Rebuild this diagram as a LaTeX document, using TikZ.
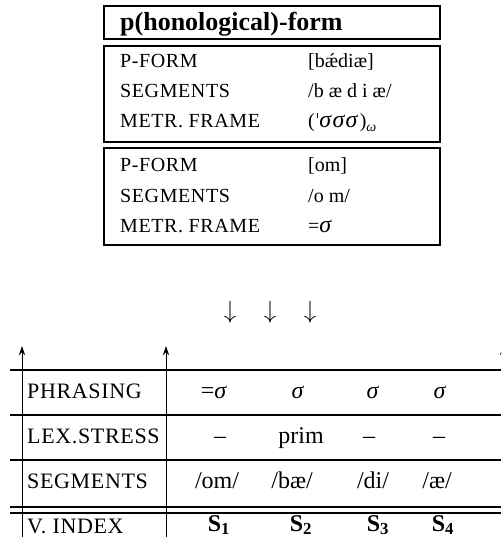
\documentclass[tikz,border=0pt]{standalone}
\usepackage{fontspec}
\setmainfont{Liberation Serif}
\usetikzlibrary{arrows.meta}
\newcommand{\sig}{\textit{σ}}
\newcommand{\bigsig}{{\fontsize{24}{26}\selectfont\textit{σ}}}
\begin{document}
\begin{tikzpicture}[x=1pt,y=-1pt,
  boxline/.style={line width=1.6pt},
  tabline/.style={line width=1.8pt},
  lab/.style={anchor=base west,inner sep=0pt,font=\fontsize{20}{22}\selectfont\addfontfeatures{LetterSpace=3}},
  tlab/.style={anchor=base west,inner sep=0pt,font=\fontsize{22}{24}\selectfont\addfontfeatures{LetterSpace=3}},
  val/.style={anchor=base west,inner sep=0pt,font=\fontsize{20}{24}\selectfont},
  cell/.style={anchor=base,inner sep=0pt,font=\fontsize{24}{28}\selectfont},
  ttl/.style={anchor=base west,inner sep=0pt,font=\fontsize{26}{30}\selectfont\bfseries},
  uparrow/.style={line width=0.7pt,-{Stealth[length=9pt,width=6pt]}},
  ]
\useasboundingbox (0,0) rectangle (501,537);
\clip (0,0) rectangle (501,537);
% top boxes
\draw[boxline] (104,6) rectangle (440,39);
\draw[boxline] (104,46) rectangle (440,142);
\draw[boxline] (104,148) rectangle (440,245);
\node[ttl] (title) at (120,31) {p(honological)-form};
\node[lab] (l1) at (120,68) {P-FORM};
\node[val] (v1) at (308,68) {[bǽdiæ]};
\node[lab] (l2) at (120,98) {SEGMENTS};
\node[val] (v2) at (308,98) {/b æ d i æ/};
\node[lab] (l3) at (120,128) {METR. FRAME};
\node[val] (v3) at (308,128) {(\hspace{2pt}\raisebox{10pt}{\rule{0.6pt}{5pt}}\hspace{2pt}\bigsig\kern0.5pt\bigsig\kern0.5pt\bigsig\kern1.5pt)\raisebox{-4pt}{\fontsize{14}{14}\selectfont\textit{ω}}};
\node[lab] (l4) at (120,172) {P-FORM};
\node[val] (v4) at (308,172) {[om]};
\node[lab] (l5) at (120,202) {SEGMENTS};
\node[val] (v5) at (308,202) {/o m/};
\node[lab] (l6) at (120,232) {METR. FRAME};
\node[val] (v6) at (308,232) {=\bigsig};
% down arrows
\node[cell] (d1) at (230,318) {$\downarrow$};
\node[cell] (d2) at (270,318) {$\downarrow$};
\node[cell] (d3) at (310,318) {$\downarrow$};
% table
\coordinate (a1b) at (22,537); \coordinate (a1t) at (22,346);
\coordinate (a2b) at (166,537); \coordinate (a2t) at (166,346);
\coordinate (a3b) at (503,537); \coordinate (a3t) at (503,346);
\draw[uparrow] (a1b) -- (a1t);
\draw[uparrow] (a2b) -- (a2t);
\draw[uparrow] (a3b) -- (a3t);
\foreach \yy in {370,415,460,507,513} \draw[tabline] (10,\yy) -- (501,\yy);
\node[tlab] (r1) at (27,398) {PHRASING};
\node[tlab] (r2) at (27,443) {LEX.STRESS};
\node[tlab] (r3) at (27,488) {SEGMENTS};
\node[tlab] (r4) at (27,533) {V. INDEX};
\node[cell] (c11) at (214,398) {=\sig};
\node[cell] (c12) at (298,398) {\sig};
\node[cell] (c13) at (373,398) {\sig};
\node[cell] (c14) at (440,398) {\sig};
\node[cell] (c21) at (220,443) {–};
\node[cell] (c22) at (301,443) {prim};
\node[cell] (c23) at (369,443) {–};
\node[cell] (c24) at (439,443) {–};
\node[cell] (c31) at (217,488) {/om/};
\node[cell] (c32) at (292,488) {/bæ/};
\node[cell] (c33) at (373,488) {/di/};
\node[cell] (c34) at (437,488) {/æ/};
\node[cell] (c41) at (219,531) {$\mathbf{S_1}$};
\node[cell] (c42) at (301,531) {$\mathbf{S_2}$};
\node[cell] (c43) at (378,531) {$\mathbf{S_3}$};
\node[cell] (c44) at (443,531) {$\mathbf{S_4}$};
\end{tikzpicture}
\end{document}
